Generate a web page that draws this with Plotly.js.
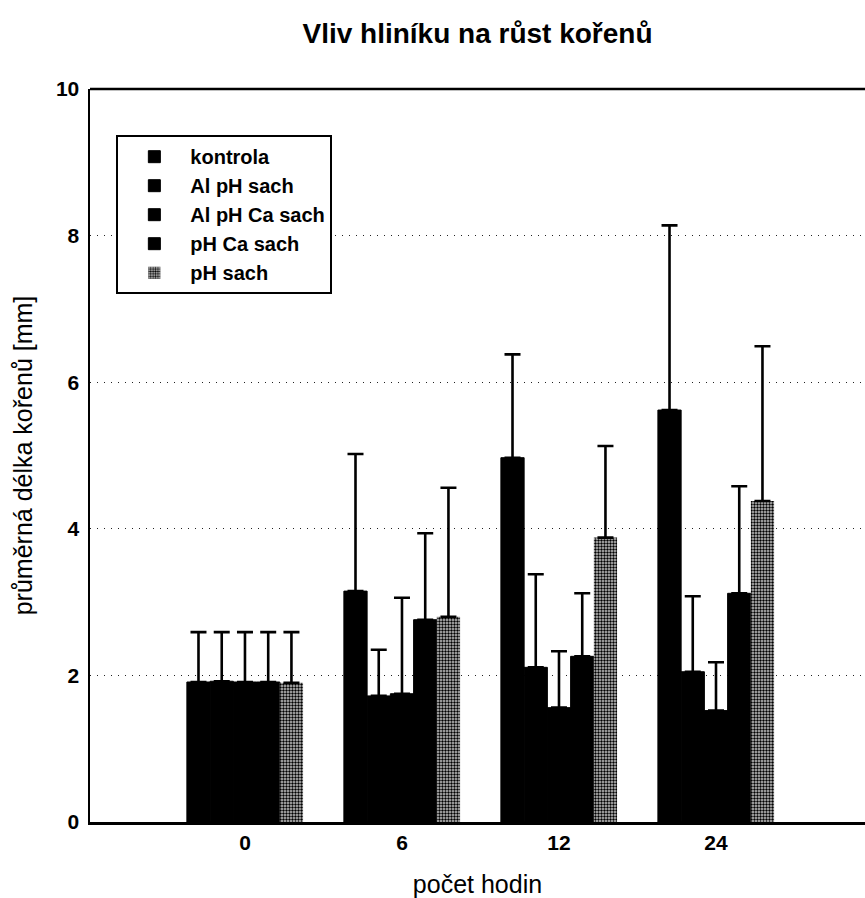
<!DOCTYPE html>
<html>
<head>
<meta charset="utf-8">
<script src="https://cdn.plot.ly/plotly-3.0.1.min.js"></script>
<style>html,body{margin:0;padding:0;background:#fff;}</style>
</head>
<body>
<div id="chart" style="width:865px;height:898px;"></div>
<script>
const categories = ["0", "6", "12", "24"];
const seriesNames = ["kontrola", "Al pH sach", "Al pH Ca sach", "pH Ca sach", "pH sach"];
const kontrola = [1.91, 3.15, 4.97, 5.62];
const alPhSach = [1.92, 1.72, 2.11, 2.05];
const alPhCaSach = [1.91, 1.75, 1.56, 1.52];
const phCaSach = [1.91, 2.76, 2.26, 3.12];
const phSach = [1.90, 2.80, 3.88, 4.38];
const errKontrola = [0.68, 1.87, 1.41, 2.52];
const errAlPhSach = [0.67, 0.63, 1.27, 1.03];
const errAlPhCaSach = [0.68, 1.31, 0.77, 0.66];
const errPhCaSach = [0.68, 1.18, 0.86, 1.46];
const errPhSach = [0.69, 1.76, 1.25, 2.11];
const yTicks = [0, 2, 4, 6, 8, 10];

const values = [kontrola, alPhSach, alPhCaSach, phCaSach, phSach];
const errors = [errKontrola, errAlPhSach, errAlPhCaSach, errPhCaSach, errPhSach];

const traces = seriesNames.map((name, i) => {
  const isPattern = i === 4;
  return {
    type: 'bar',
    name: name,
    x: categories,
    y: values[i],
    marker: isPattern ? {
      color: '#9a9a9a',
      line: {width: 0},
      pattern: {shape: '.', fgcolor: '#000000', bgcolor: '#c8c8c8', size: 3, solidity: 0.5, fillmode: 'replace'}
    } : {color: '#000000', line: {width: 1, color: '#000000'}},
    error_y: {
      type: 'data',
      array: errors[i],
      arrayminus: errors[i].map(() => 0),
      symmetric: false,
      visible: true,
      color: '#000000',
      thickness: 2.6,
      width: 8
    }
  };
});

const font = "Liberation Sans, Arial, sans-serif";

const layout = {
  width: 865,
  height: 898,
  paper_bgcolor: '#ffffff',
  plot_bgcolor: '#ffffff',
  margin: {l: 90, r: 0, t: 89, b: 76},
  barmode: 'group',
  bargap: 0.26,
  bargroupgap: 0,
  showlegend: true,
  title: {
    text: 'Vliv hliníku na růst kořenů',
    font: {family: font, size: 28, color: '#000', weight: 'bold'},
    x: 0.5, xref: 'paper', xanchor: 'center',
    y: 1 - 33/898, yref: 'container', yanchor: 'middle'
  },
  xaxis: {
    type: 'category',
    range: [-0.987, 3.949],
    showline: true, linecolor: '#000', linewidth: 2.5,
    mirror: false,
    ticks: '',
    showgrid: false,
    tickfont: {family: font, size: 21, color: '#000', weight: 'bold'},
    title: {text: 'počet hodin', font: {family: font, size: 25, color: '#000'}, standoff: 25},
    automargin: false,
    zeroline: false
  },
  yaxis: {
    range: [0, 10],
    tickvals: yTicks,
    ticktext: yTicks.map(String),
    showline: true, linecolor: '#000', linewidth: 2.5,
    ticks: '',
    showgrid: true, gridcolor: '#222', griddash: '1px,6px', gridwidth: 1.4,
    zeroline: false,
    automargin: false,
    tickfont: {family: font, size: 21, color: '#000', weight: 'bold'},
    ticklabelstandoff: 4,
    title: {text: 'průměrná délka kořenů [mm]', font: {family: font, size: 25, color: '#000'}, standoff: 16}
  },
  legend: {
    x: 0.034, y: 0.937, xanchor: 'left', yanchor: 'top',
    bordercolor: '#000', borderwidth: 2, bgcolor: '#ffffff',
    font: {family: font, size: 20, color: '#000', weight: 'bold'},
    itemwidth: 62,
    traceorder: 'normal'
  },
  shapes: [
    {type: 'line', xref: 'paper', yref: 'paper', x0: 0, x1: 1, y0: 1, y1: 1, line: {color: '#000', width: 2.5}}
  ]
};

Plotly.newPlot('chart', traces, layout, {displayModeBar: false, staticPlot: true});
</script>
</body>
</html>
